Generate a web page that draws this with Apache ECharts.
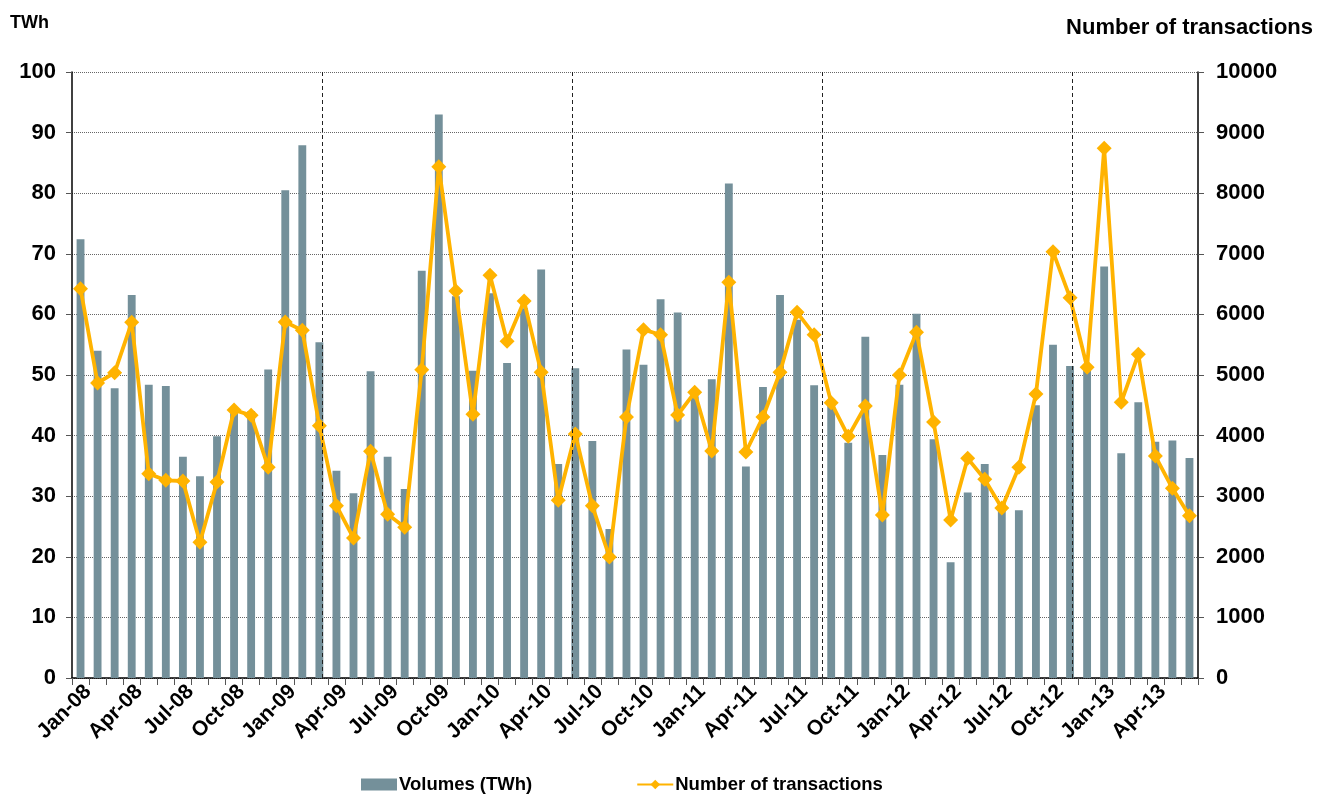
<!DOCTYPE html>
<html>
<head>
<meta charset="utf-8">
<title>Volumes and number of transactions</title>
<script src="https://cdn.jsdelivr.net/npm/echarts@6/dist/echarts.min.js"></script>
<style>
  html, body { margin: 0; padding: 0; background: #ffffff; }
  #chart { width: 1326px; height: 803px; }
</style>
</head>
<body>
<div id="chart"></div>
<script>
// Monthly categories, Jan-08 .. Jun-13
const months = [
  'Jan-08','Feb-08','Mar-08','Apr-08','May-08','Jun-08','Jul-08','Aug-08','Sep-08','Oct-08','Nov-08','Dec-08',
  'Jan-09','Feb-09','Mar-09','Apr-09','May-09','Jun-09','Jul-09','Aug-09','Sep-09','Oct-09','Nov-09','Dec-09',
  'Jan-10','Feb-10','Mar-10','Apr-10','May-10','Jun-10','Jul-10','Aug-10','Sep-10','Oct-10','Nov-10','Dec-10',
  'Jan-11','Feb-11','Mar-11','Apr-11','May-11','Jun-11','Jul-11','Aug-11','Sep-11','Oct-11','Nov-11','Dec-11',
  'Jan-12','Feb-12','Mar-12','Apr-12','May-12','Jun-12','Jul-12','Aug-12','Sep-12','Oct-12','Nov-12','Dec-12',
  'Jan-13','Feb-13','Mar-13','Apr-13','May-13','Jun-13'
];

// Traded volumes, TWh
const volumes = [
  72.4, 54.0, 47.8, 63.2, 48.4, 48.2, 36.5, 33.3, 39.9, 44.2, 44.0, 50.9,
  80.5, 87.9, 55.4, 34.2, 30.5, 50.6, 36.5, 31.2, 67.2, 93.0, 63.0, 50.7,
  63.5, 52.0, 61.0, 67.4, 35.3, 51.1, 39.1, 24.6, 54.2, 51.7, 62.5, 60.3,
  46.5, 49.3, 81.6, 34.9, 48.0, 63.2, 59.1, 48.3, 45.3, 38.8, 56.3, 36.8,
  48.4, 60.1, 39.4, 19.1, 30.6, 35.3, 29.0, 27.7, 45.0, 55.0, 51.5, 51.3,
  67.9, 37.1, 45.5, 39.0, 39.2, 36.3
];

// Number of transactions
const transactions = [
  6424, 4868, 5038, 5869, 3372, 3262, 3251, 2239, 3234, 4422, 4334, 3476,
  5874, 5737, 4164, 2844, 2310, 3741, 2701, 2487, 5088, 8438, 6386, 4351,
  6645, 5556, 6220, 5044, 2932, 4026, 2841, 1997, 4307, 5748, 5665, 4340,
  4714, 3746, 6529, 3729, 4307, 5044, 6034, 5665, 4543, 3988, 4488, 2690,
  5000, 5704, 4224, 2607, 3625, 3278, 2805, 3476, 4686, 7035, 6276, 5127,
  8740, 4549, 5341, 3663, 3130, 2678
];

// Period dividers, in months elapsed since the start of Jan-08
const dividers = [14.65, 29.3, 43.95, 58.6];

const FONT = '"Liberation Sans", Arial, Helvetica, sans-serif';
const BAR_COLOR = '#74909a';
const LINE_COLOR = '#ffb300';

const chart = echarts.init(document.getElementById('chart'), null, { renderer: 'canvas' });

chart.setOption({
  animation: false,
  backgroundColor: '#ffffff',
  textStyle: { fontFamily: FONT },
  grid: { left: 72, right: 128, top: 72, bottom: 125, containLabel: false },
  graphic: [
    {
      type: 'text', left: 10, top: 14,
      style: { text: 'TWh', font: 'bold 18px ' + FONT, fill: '#000' }
    },
    {
      type: 'text', right: 13, top: 17,
      style: { text: 'Number of transactions', font: 'bold 22px ' + FONT, fill: '#000' }
    }
  ],
  legend: {
    left: 356, bottom: 4,
    itemGap: 104,
    itemWidth: 36, itemHeight: 12,
    textStyle: { fontFamily: FONT, fontSize: 18.5, fontWeight: 'bold', color: '#000', padding: [0, 0, 0, -3] },
    data: [
      { name: 'Volumes (TWh)', icon: 'rect' },
      { name: 'Number of transactions' }
    ]
  },
  xAxis: [
    {
      type: 'category',
      data: months,
      boundaryGap: true,
      axisLine: { lineStyle: { color: '#000', width: 1.5 } },
      axisTick: { show: true, interval: 0, length: 7, lineStyle: { color: '#555' } },
      axisLabel: {
        interval: 2, rotate: 45, margin: 3,
        verticalAlign: 'top',
        fontFamily: FONT, fontSize: 21, fontWeight: 'bold', color: '#000'
      },
      splitLine: { show: false }
    },
    {
      type: 'value',
      min: 0, max: months.length,
      show: false
    }
  ],
  yAxis: [
    {
      type: 'value',
      min: 0, max: 100, interval: 10,
      axisLine: { show: true, lineStyle: { color: '#000', width: 1.5 } },
      axisTick: { show: true, length: 6, lineStyle: { color: '#555' } },
      axisLabel: { margin: 16, fontFamily: FONT, fontSize: 22, fontWeight: 'bold', color: '#000' },
      splitLine: { show: true, lineStyle: { color: '#666', type: 'dotted', width: 1 } }
    },
    {
      type: 'value',
      min: 0, max: 10000, interval: 1000,
      position: 'right',
      axisLine: { show: true, lineStyle: { color: '#000', width: 1.5 } },
      axisTick: { show: true, length: 6, lineStyle: { color: '#555' } },
      axisLabel: {
        margin: 18, fontFamily: FONT, fontSize: 22, fontWeight: 'bold', color: '#000',
        formatter: v => String(v)
      },
      splitLine: { show: false }
    }
  ],
  series: [
    {
      name: 'Volumes (TWh)',
      type: 'bar',
      xAxisIndex: 0, yAxisIndex: 0,
      data: volumes,
      barWidth: '46%',
      itemStyle: { color: BAR_COLOR },
      z: 2
    },
    {
      name: 'dividers',
      type: 'line',
      xAxisIndex: 1, yAxisIndex: 0,
      data: [],
      silent: true,
      markLine: {
        silent: true,
        symbol: 'none',
        label: { show: false },
        lineStyle: { color: '#222', type: [4, 3], width: 1 },
        data: dividers.map(d => ({ xAxis: d }))
      },
      z: 3
    },
    {
      name: 'Number of transactions',
      type: 'line',
      xAxisIndex: 0, yAxisIndex: 1,
      data: transactions,
      symbol: 'diamond',
      symbolSize: 15,
      showAllSymbol: true,
      lineStyle: { color: LINE_COLOR, width: 3.8 },
      itemStyle: { color: LINE_COLOR },
      z: 4
    }
  ]
});
</script>
</body>
</html>
